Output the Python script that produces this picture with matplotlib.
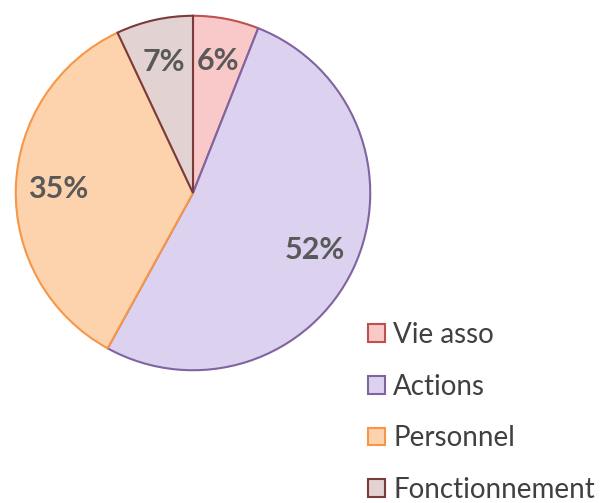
import matplotlib.pyplot as plt

labels = ["Vie asso", "Actions", "Personnel", "Fonctionnement"]
values = [6, 52, 35, 7]
fills = ["#F9C9C9", "#DCD2F0", "#FDD3AE", "#E2D2D2"]
edges = ["#C0504D", "#8064A2", "#F79646", "#7A3B3B"]

plt.rcParams['font.family'] = ['Lato', 'DejaVu Sans']

fig = plt.figure(figsize=(6.05, 5.03), dpi=100)
W, H = 605, 503
cx, cy, r = 193, 193, 179
ax = fig.add_axes([(cx - r) / W, (H - cy - r) / H, 2 * r / W, 2 * r / H])

wedges, texts, autotexts = ax.pie(values, colors=fills, startangle=90, counterclock=False,
                                  autopct='%1.0f%%', pctdistance=0.76, radius=1,
                                  textprops=dict(fontsize=22, fontweight='bold', color='#595959'))
for w, ec in zip(wedges, edges):
    w.set_edgecolor(ec)
    w.set_linewidth(1.5)
ax.set_xlim(-1.01, 1.01)
ax.set_ylim(-1.01, 1.01)
ax.set_aspect('equal')

fig.legend(wedges, labels, loc='upper left', bbox_to_anchor=(343 / W, 1 - 297 / H),
           frameon=False, fontsize=20, handlelength=0.6, handleheight=0.6,
           handletextpad=0.3, labelspacing=0.92, labelcolor='#404040')

fig.savefig('out.png', dpi=100)
